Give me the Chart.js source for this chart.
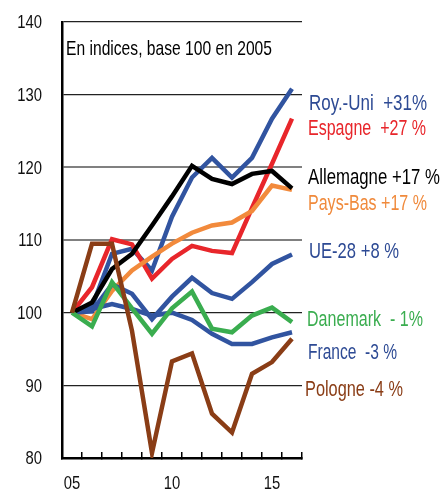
<!DOCTYPE html>
<html>
<head>
<meta charset="utf-8">
<script src="https://cdn.jsdelivr.net/npm/chart.js@4.4.0/dist/chart.umd.min.js"></script>
<style>
html,body{margin:0;padding:0;background:#fff;}
#wrap{position:relative;width:441px;height:490px;}
</style>
</head>
<body>
<div id="wrap"><canvas id="c" width="441" height="490"></canvas></div>
<script>
const FONT = "'Liberation Sans','Arial',sans-serif";

const years = ['05','06','07','08','09','10','11','12','13','14','15','16'];
const shownYearLabels = ['05','10','15'];
const yTicks = [80, 90, 100, 110, 120, 130, 140];

const royUni    = [100, 100.8, 108.1, 108.8, 105.8, 113.2, 118.6, 121.3, 118.6, 121.3, 126.7, 130.8];
const espagne   = [100, 103.5, 110.1, 109.4, 104.7, 107.4, 109.2, 108.5, 108.2, 114.4, 120.5, 126.7];
const allemagne = [100, 101.4, 106.0, 108.1, 112.0, 116.0, 120.2, 118.4, 117.7, 119.1, 119.5, 117.1];
const paysBas   = [100, 99.1, 103.0, 105.8, 107.7, 109.5, 111.0, 112.0, 112.4, 114.0, 117.5, 116.9];
const ue28      = [100, 100.2, 103.9, 102.6, 99.1, 102.2, 104.8, 102.7, 101.9, 104.2, 106.7, 108.0];
const danemark  = [100, 98.1, 104.2, 100.6, 97.1, 100.6, 102.9, 97.8, 97.3, 99.6, 100.7, 98.7];
const france    = [100, 100.5, 101.2, 100.5, 99.6, 100.0, 99.0, 97.1, 95.7, 95.7, 96.6, 97.3];
const pologne   = [100, 109.5, 109.5, 97.5, 80.7, 93.3, 94.4, 86.1, 83.5, 91.6, 93.2, 96.4];

const seriesNames = ['Pologne','Danemark','Allemagne','France','UE-28','Pays-Bas','Espagne','Roy.-Uni'];
const seriesLabels = ['Pologne -4 %','Danemark  - 1%','Allemagne +17 %','France  -3 %','UE-28 +8 %','Pays-Bas +17 %','Espagne  +27 %','Roy.-Uni  +31%'];
const annotationText = 'En indices, base 100 en 2005';

const colors = {
  'Roy.-Uni':'#3154a0','Espagne':'#e8262b','Allemagne':'#000000','Pays-Bas':'#f28a3c',
  'UE-28':'#3154a0','Danemark':'#3aad4f','France':'#3154a0','Pologne':'#8a3d16'
};
const textColors = {
  'Roy.-Uni':'#2d4a94','Espagne':'#e8262b','Allemagne':'#000000','Pays-Bas':'#f08a3c',
  'UE-28':'#2d4a94','Danemark':'#3aad4f','France':'#2d4a94','Pologne':'#8a3d16'
};
// label anchor (in data units) for right-hand labels
const labelAt = {
  'Roy.-Uni':128.7,'Espagne':125.3,'Allemagne':118.6,'Pays-Bas':115.0,
  'UE-28':108.3,'Danemark':99.0,'France':94.4,'Pologne':89.3
};
// rendered widths of the condensed labels (px)
const labelWidth = {
  'Roy.-Uni':118,'Espagne':118,'Allemagne':132,'Pays-Bas':119,
  'UE-28':90,'Danemark':116,'France':89,'Pologne':98
};
const labelDx = {
  'Roy.-Uni':7,'Espagne':6,'Allemagne':6,'Pays-Bas':6,
  'UE-28':7,'Danemark':5,'France':6,'Pologne':3
};
const seriesData = {
  'Roy.-Uni':royUni,'Espagne':espagne,'Allemagne':allemagne,'Pays-Bas':paysBas,
  'UE-28':ue28,'Danemark':danemark,'France':france,'Pologne':pologne
};

const datasets = seriesNames.map(n => ({
  label: n,
  data: seriesData[n],
  borderColor: colors[n],
  backgroundColor: colors[n],
  borderWidth: 4.5,
  pointRadius: 0,
  tension: 0,
  fill: false,
  borderJoinStyle: 'miter'
}));

function condensedText(ctx, text, x, y, width, align) {
  const w = ctx.measureText(text).width;
  const sx = width ? width / w : 0.78;
  ctx.save();
  ctx.translate(x, y);
  ctx.scale(sx, 1);
  ctx.textAlign = align || 'left';
  ctx.fillText(text, 0, 0);
  ctx.restore();
}

const textPlugin = {
  id: 'texts',
  afterDraw(chart) {
    const ctx = chart.ctx;
    const xs = chart.scales.x, ys = chart.scales.y;
    ctx.save();
    ctx.textBaseline = 'middle';
    // y tick labels
    ctx.font = '19px ' + FONT;
    ctx.fillStyle = '#111';
    ys.ticks.forEach(t => {
      condensedText(ctx, String(t.value), xs.left - 20, ys.getPixelForValue(t.value) + 1, 0, 'right');
    });
    // x tick labels
    years.forEach((lab, i) => {
      if (shownYearLabels.includes(lab)) {
        condensedText(ctx, lab, xs.getPixelForValue(i), ys.bottom + 26, 0, 'center');
      }
    });
    // annotation
    ctx.font = '21px ' + FONT;
    ctx.fillStyle = '#000';
    condensedText(ctx, annotationText, xs.left + 4, ys.getPixelForValue(136.3), 206, 'left');
    // right-hand labels
    ctx.font = '22px ' + FONT;
    seriesNames.forEach((n, i) => {
      ctx.fillStyle = textColors[n];
      condensedText(ctx, seriesLabels[i], xs.right + labelDx[n], ys.getPixelForValue(labelAt[n]), labelWidth[n], 'left');
    });
    ctx.restore();
  }
};

new Chart(document.getElementById('c'), {
  type: 'line',
  data: { labels: years, datasets },
  plugins: [textPlugin],
  options: {
    responsive: false,
    animation: false,
    events: [],
    layout: { padding: { left: 0, right: 139, top: 22, bottom: 0 } },
    plugins: { legend: { display: false }, tooltip: { enabled: false }, title: { display: false } },
    scales: {
      x: {
        type: 'category',
        offset: true,
        border: { display: true, color: '#000', width: 2.5 },
        grid: { offset: true, drawOnChartArea: false, drawTicks: true, tickLength: -6, color: '#000', lineWidth: 1.5 },
        ticks: { display: false, autoSkip: false },
        afterFit: s => { s.height = 32; }
      },
      y: {
        min: 80, max: 140,
        afterBuildTicks: s => { s.ticks = yTicks.map(v => ({ value: v })); },
        border: { display: true, color: '#000', width: 2.5 },
        grid: {
          drawTicks: false,
          color: c => (c.tick && (c.tick.value === 110 || c.tick.value === 120)) ? '#808080' : '#222',
          lineWidth: c => (c.tick && (c.tick.value === 110 || c.tick.value === 120)) ? 2 : 1.2
        },
        ticks: { display: false },
        afterFit: s => { s.width = 62; }
      }
    }
  }
});
</script>
</body>
</html>
